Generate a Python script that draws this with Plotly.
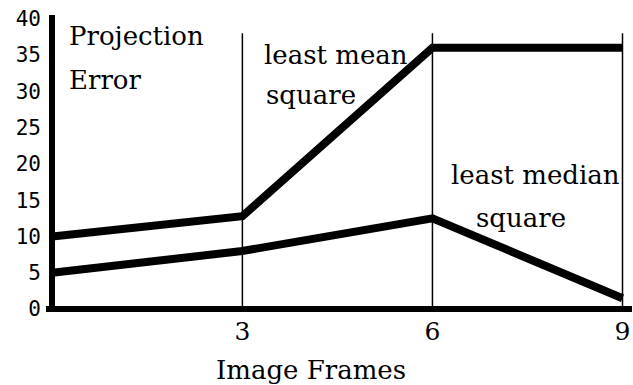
"""
Projection error vs image frames: least mean square vs least median square.
"""

import plotly.graph_objs as go

# data
frames = [0, 3, 6, 9]
lms_error = [10, 12.8, 36, 36]
lmeds_error = [5, 8, 12.5, 1.5]

y_ticks = [0, 5, 10, 15, 20, 25, 30, 35, 40]
x_ticks = [3, 6, 9]

W, H = 633, 385
MARGIN = {"l": 46, "r": 1, "t": 15, "b": 73}

SERIF = "DejaVu Serif"
MONO = "DejaVu Sans Mono"


def to_paper(px_x, px_y):
    # pixel position in the page -> paper coordinates of the plot area
    plot_w = W - MARGIN["l"] - MARGIN["r"]
    plot_h = H - MARGIN["t"] - MARGIN["b"]
    return (px_x - MARGIN["l"]) / plot_w, (H - MARGIN["b"] - px_y) / plot_h


def label(text, px_x, px_y, xanchor="left", size=26):
    x, y = to_paper(px_x, px_y)
    return {
        "text": text,
        "x": x,
        "y": y,
        "xref": "paper",
        "yref": "paper",
        "xanchor": xanchor,
        "yanchor": "middle",
        "showarrow": False,
        "font": {"family": SERIF, "size": size, "color": "black"},
    }


traces = [
    go.Scatter(x=frames, y=lms_error, mode="lines", name="least mean square",
               line={"color": "black", "width": 8}),
    go.Scatter(x=frames, y=lmeds_error, mode="lines", name="least median square",
               line={"color": "black", "width": 8}),
]

shapes = [
    {"type": "line", "xref": "x", "yref": "y", "x0": t, "x1": t, "y0": 0, "y1": 38,
     "line": {"color": "black", "width": 1.5}, "layer": "below"}
    for t in x_ticks
]

annotations = [
    label("Projection", 67, 36),
    label("Error", 67, 80),
    label("least mean", 262, 55),
    label("square", 264, 95),
    label("least median", 535, 175, xanchor="center"),
    label("square", 521, 218, xanchor="center"),
    label("Image Frames", 311, 370, xanchor="center"),
]

layout = go.Layout(
    width=W,
    height=H,
    margin=MARGIN,
    paper_bgcolor="white",
    plot_bgcolor="white",
    showlegend=False,
    xaxis={
        "range": [-0.1, 9.15],
        "automargin": False,
        "tickvals": x_ticks,
        "showgrid": False,
        "zeroline": True,
        "zerolinecolor": "black",
        "zerolinewidth": 6,
        "ticks": "",
        "ticklabelstandoff": 2,
        "ticklabeloverflow": "allow",
        "tickfont": {"family": SERIF, "size": 25, "color": "black"},
    },
    yaxis={
        "range": [-0.4, 40.5],
        "automargin": False,
        "tickvals": y_ticks,
        "showgrid": False,
        "zeroline": True,
        "zerolinecolor": "black",
        "zerolinewidth": 6,
        "ticks": "",
        "ticklabelstandoff": 4,
        "ticklabeloverflow": "allow",
        "tickfont": {"family": MONO, "size": 21, "color": "black"},
    },
    shapes=shapes,
    annotations=annotations,
)

fig = go.Figure(data=traces, layout=layout)
# drop the default body margin so the figure sits flush in the window
fig.write_html(
    "out.html",
    config={"displayModeBar": False},
    post_script="document.body.style.margin = '0';",
)
